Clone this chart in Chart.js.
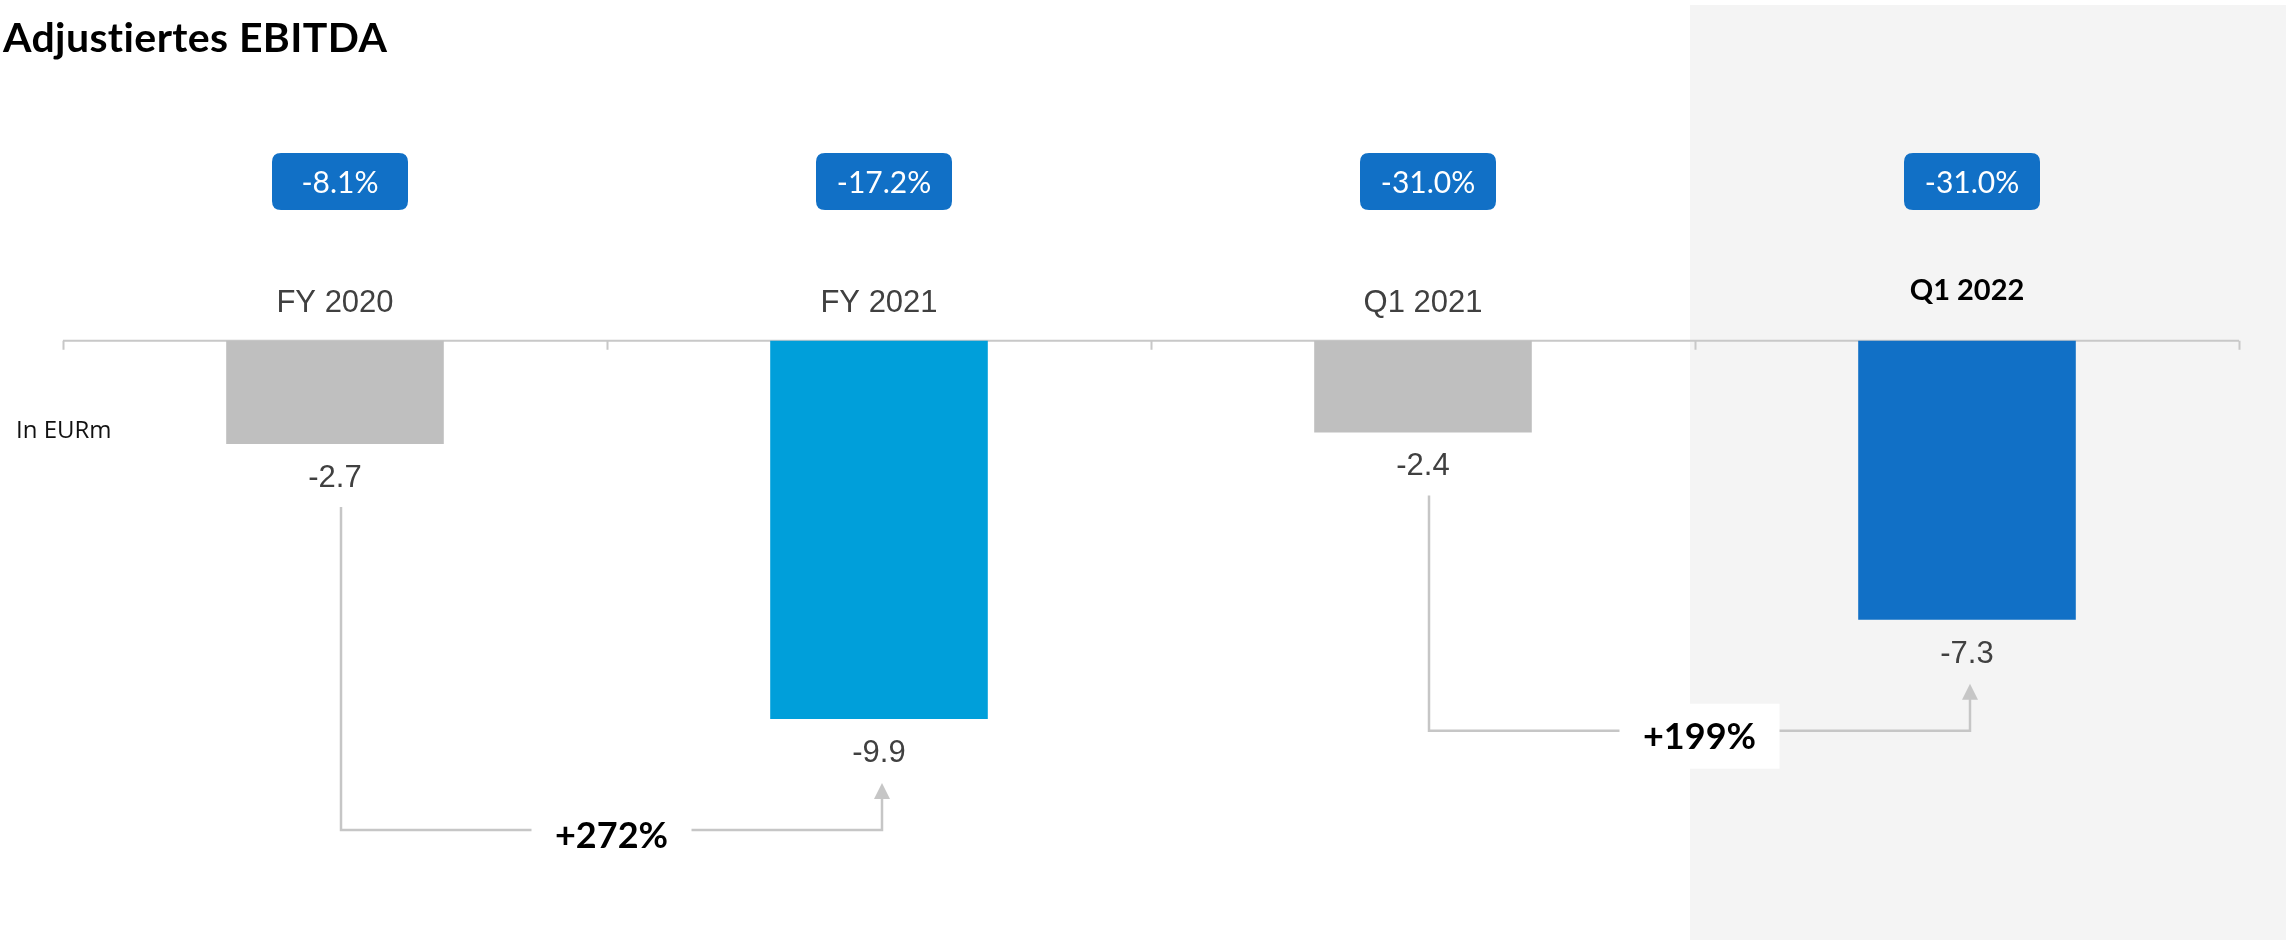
<!DOCTYPE html>
<html>
<head>
<meta charset="utf-8">
<script src="https://cdn.jsdelivr.net/npm/chart.js@4.4.1/dist/chart.umd.min.js"></script>
<style>
  html, body { margin: 0; padding: 0; background: #ffffff; }
  #wrap { width: 2292px; height: 940px; position: relative; }
</style>
</head>
<body>
<div id="wrap"><canvas id="ebitdaChart"></canvas></div>
<script>
// data
const categories = ['FY 2020', 'FY 2021', 'Q1 2021', 'Q1 2022'];
const ebitda = [-2.7, -9.9, -2.4, -7.3];
const valueLabels = ['-2.7', '-9.9', '-2.4', '-7.3'];
const marginLabels = ['-8.1%', '-17.2%', '-31.0%', '-31.0%'];
const growthFrom = [0, 2];
const growthTo = [1, 3];
const growthLabels = ['+272%', '+199%'];

const barColors = ['#bfbfbf', '#009fda', '#bfbfbf', '#1170c6'];
const highlightIndex = 3;

function roundRect(ctx, x, y, w, h, r) {
  ctx.beginPath();
  ctx.moveTo(x + r, y);
  ctx.lineTo(x + w - r, y);
  ctx.quadraticCurveTo(x + w, y, x + w, y + r);
  ctx.lineTo(x + w, y + h - r);
  ctx.quadraticCurveTo(x + w, y + h, x + w - r, y + h);
  ctx.lineTo(x + r, y + h);
  ctx.quadraticCurveTo(x, y + h, x, y + h - r);
  ctx.lineTo(x, y + r);
  ctx.quadraticCurveTo(x, y, x + r, y);
  ctx.closePath();
}

const slideDecor = {
  id: 'slideDecor',
  beforeDraw(chart) {
    const ctx = chart.ctx;
    const xs = chart.scales.x;
    const half = (xs.getPixelForValue(1) - xs.getPixelForValue(0)) / 2;
    ctx.save();
    ctx.fillStyle = '#ffffff';
    ctx.fillRect(0, 0, chart.width, chart.height);
    // grey panel behind the latest quarter
    const panelLeft = xs.getPixelForValue(highlightIndex) - half - 5;
    ctx.fillStyle = '#f4f4f4';
    ctx.fillRect(panelLeft, 5, chart.width - panelLeft - 6, chart.height - 5);

    ctx.fillStyle = '#000000';
    ctx.font = 'bold 41px Lato';
    ctx.letterSpacing = '0.4px'; // also stops the "ti" ligature
    ctx.textAlign = 'left';
    ctx.textBaseline = 'alphabetic';
    ctx.fillText('Adjustiertes EBITDA', 3, 52);
    ctx.letterSpacing = '0px';

    ctx.fillStyle = '#111111';
    ctx.font = '24px "Open Sans"';
    ctx.fillText('In EURm', 16, 438);
    ctx.restore();
  },
  beforeDatasetsDraw(chart) {
    const ctx = chart.ctx;
    const xs = chart.scales.x;
    const y0 = chart.scales.y.getPixelForValue(0);
    const half = (xs.getPixelForValue(1) - xs.getPixelForValue(0)) / 2;
    ctx.save();
    ctx.strokeStyle = '#c8c8c8';
    ctx.lineWidth = 2;
    ctx.beginPath();
    ctx.moveTo(xs.left, y0);
    ctx.lineTo(xs.right, y0);
    for (let i = 0; i <= categories.length; i++) {
      const tx = Math.round(xs.left + i * half * 2) + 0.5;
      ctx.moveTo(tx, y0);
      ctx.lineTo(tx, y0 + 9);
    }
    ctx.stroke();
    ctx.restore();
  },
  afterDatasetsDraw(chart) {
    const ctx = chart.ctx;
    const bars = chart.getDatasetMeta(0).data;
    ctx.save();

    bars.forEach((bar, i) => {
      // margin badge
      const bw = 136, bh = 57;
      const bx = bar.x + 5 - bw / 2;
      ctx.fillStyle = '#1170c6';
      roundRect(ctx, bx, 153, bw, bh, 9);
      ctx.fill();
      ctx.fillStyle = '#ffffff';
      ctx.font = '30px Lato';
      ctx.textAlign = 'center';
      ctx.textBaseline = 'alphabetic';
      ctx.fillText(marginLabels[i], bar.x + 5, 193);

      // category label above the zero line
      if (i === highlightIndex) {
        ctx.fillStyle = '#000000';
        ctx.font = 'bold 29px Lato';
        ctx.fillText(categories[i], bar.x, 300);
      } else {
        ctx.fillStyle = '#404040';
        ctx.font = '31px "Liberation Sans"';
        ctx.fillText(categories[i], bar.x, 312);
      }

      // value below the bar
      ctx.fillStyle = '#404040';
      ctx.font = '31px "Liberation Sans"';
      ctx.fillText(valueLabels[i], bar.x, bar.y + 43);
    });

    // growth connectors
    growthFrom.forEach((from, k) => {
      const a = bars[from], b = bars[growthTo[k]];
      const x1 = a.x + 6, x2 = b.x + 3;
      const startY = a.y + 63;
      const tipY = b.y + 64;
      const lineY = tipY + 47;
      const mid = (x1 + x2) / 2;

      ctx.strokeStyle = '#c6c6c6';
      ctx.fillStyle = '#c6c6c6';
      ctx.lineWidth = 2.5;
      ctx.beginPath();
      ctx.moveTo(x1, startY);
      ctx.lineTo(x1, lineY);
      ctx.lineTo(x2, lineY);
      ctx.lineTo(x2, tipY + 14);
      ctx.stroke();
      ctx.beginPath();
      ctx.moveTo(x2, tipY);
      ctx.lineTo(x2 - 8, tipY + 16);
      ctx.lineTo(x2 + 8, tipY + 16);
      ctx.closePath();
      ctx.fill();

      ctx.fillStyle = '#ffffff';
      ctx.fillRect(mid - 80, lineY + 5 - 32, 160, 65);
      ctx.fillStyle = '#000000';
      ctx.font = 'bold 36px Lato';
      ctx.textAlign = 'center';
      ctx.fillText(growthLabels[k], mid, lineY + 18);
    });
    ctx.restore();
  }
};

new Chart(document.getElementById('ebitdaChart'), {
  type: 'bar',
  data: {
    labels: categories,
    datasets: [{
      label: 'Adjustiertes EBITDA',
      data: ebitda,
      backgroundColor: barColors,
      borderWidth: 0,
      barPercentage: 0.4,
      categoryPercentage: 1.0
    }]
  },
  options: {
    responsive: true,
    maintainAspectRatio: false,
    devicePixelRatio: 1,
    animation: false,
    layout: {
      padding: { left: 63, right: 53, top: 35, bottom: 26 }
    },
    plugins: {
      legend: { display: false },
      tooltip: { enabled: false }
    },
    scales: {
      x: { display: false },
      y: { display: false, min: -15, max: 8 }
    }
  },
  plugins: [slideDecor]
});
</script>
</body>
</html>
